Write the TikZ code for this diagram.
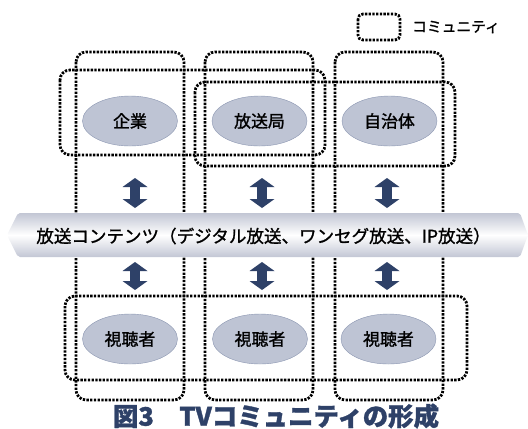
\documentclass[tikz,border=0pt]{standalone}
\usepackage{fontspec}
\setmainfont{Noto Sans CJK JP}
\newfontfamily\jpm[RawFeature={embolden=1.3}]{Noto Sans CJK JP}
\usetikzlibrary{arrows.meta,shapes.geometric}
\definecolor{navy}{HTML}{2E4168}
\definecolor{ellfill}{HTML}{BEC4D4}
\definecolor{elldraw}{HTML}{8A95B0}
\definecolor{bandc}{HTML}{C2C6D4}
\tikzset{
  community/.style={line width=2.8bp, dash pattern=on 2.3bp off 1.4bp, rounded corners=10bp},
  actor/.style={ellipse, draw=elldraw, fill=ellfill, minimum width=95bp, minimum height=50bp, inner sep=0pt, font=\jpm\fontsize{17}{19}\selectfont},
  updown/.style={draw=navy, fill=navy, line width=10bp, {Triangle[width=25bp,length=9bp,line width=0pt]}-{Triangle[width=25bp,length=9bp,line width=0pt]}},
}
\begin{document}
\begin{tikzpicture}[x=1bp,y=-1bp]
\useasboundingbox (0,0) rectangle (528,428);
% legend
\draw[community, rounded corners=5bp] (358,14) rectangle (400,40);
\node[anchor=west, font=\jpm\fontsize{14.8}{16}\selectfont, inner sep=0pt] (legend) at (412,27) {コミュニティ};
% column communities
\draw[community] (76,52) rectangle (184,400);
\draw[community] (205,52) rectangle (313,400);
\draw[community] (335,52) rectangle (443,400);
% row communities
\draw[community] (60,70) rectangle (325,155);
\draw[community] (195,82) rectangle (455,166);
\draw[community] (65,296) rectangle (467,380);
% band
\shade[top color=bandc, bottom color=bandc, middle color=white, rounded corners=2bp]
  (7,235) -- (18,213) -- (520,213) -- (528,235) -- (520,257) -- (18,257) -- cycle;
\node[font=\jpm\fontsize{17.6}{19}\selectfont, inner sep=0pt] (band) at (263.5,236) {放送コンテンツ（デジタル放送、ワンセグ放送、IP放送）};
% actors
\node[actor] (e1) at (130,121) {企業};
\node[actor] (e2) at (259.5,121) {放送局};
\node[actor] (e3) at (389.5,121) {自治体};
\node[actor] (v1) at (130,339) {視聴者};
\node[actor] (v2) at (260,339) {視聴者};
\node[actor] (v3) at (388.5,339) {視聴者};
% arrows
\foreach \i/\x in {1/135,2/262,3/387}{
  \coordinate (a\i t) at (\x,178);
  \coordinate (a\i b) at (\x,208);
  \coordinate (b\i t) at (\x,262);
  \coordinate (b\i b) at (\x,290);
  \draw[updown] (a\i t) -- (a\i b);
  \draw[updown] (b\i t) -- (b\i b);
}
% caption
\node[font=\jpm\bfseries\fontsize{25.5}{27}\selectfont, text=navy, inner sep=0pt] (cap) at (276,416) {図3　TVコミュニティの形成};
\end{tikzpicture}
\end{document}
